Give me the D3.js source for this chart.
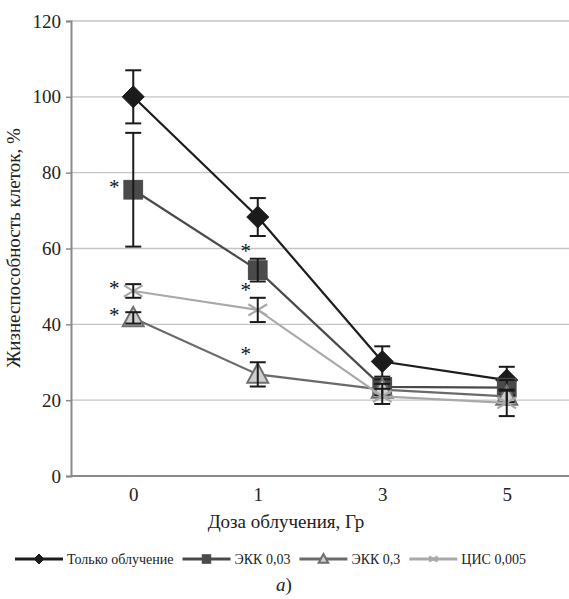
<!DOCTYPE html>
<html><head><meta charset="utf-8">
<script src="https://cdn.jsdelivr.net/npm/d3@7"></script>
<style>body{margin:0;background:#fff}svg{display:block}
svg text{font-family:"Liberation Serif",Tinos,"Times New Roman",Times,"DejaVu Serif","Noto Serif",serif}</style>
</head><body><svg id="c" width="569" height="599"></svg>
<script>
const doses = ["0", "1", "3", "5"];
const yTicks = [0, 20, 40, 60, 80, 100, 120];
const seriesNames = ["Только облучение", "ЭКК 0,03", "ЭКК 0,3", "ЦИС 0,005"];
const onlyIrr = [100, 68.3, 30.2, 25.3];
const onlyIrrErr = [7, 5, 4, 3.5];
const ekk003 = [75.5, 54.3, 23.5, 23.3];
const ekk003Err = [15, 3, 2, 2];
const ekk03 = [41.7, 26.8, 22.8, 21];
const ekk03Err = [1.5, 3.2, 1.5, 1.5];
const cis = [48.8, 43.8, 21, 19.3];
const cisErr = [1.8, 3.2, 2, 3.5];
const signif003 = [true, true, false, false];
const signif03 = [true, true, false, false];
const signifCis = [true, true, false, false];

const series = [
  {name: seriesNames[0], vals: onlyIrr, err: onlyIrrErr, sig: [false,false,false,false], line: "#1c1c1c", sym: "diamond", fill: "#1c1c1c", stroke: "#1c1c1c"},
  {name: seriesNames[1], vals: ekk003, err: ekk003Err, sig: signif003, line: "#4a4a4a", sym: "square", fill: "#4a4a4a", stroke: "#4a4a4a"},
  {name: seriesNames[2], vals: ekk03, err: ekk03Err, sig: signif03, line: "#6a6a6a", sym: "triangle", fill: "#cfcfcf", stroke: "#6e6e6e"},
  {name: seriesNames[3], vals: cis, err: cisErr, sig: signifCis, line: "#a9a9a9", sym: "x", fill: "none", stroke: "#a9a9a9"}
];

const svg = d3.select("#c");
const x = d3.scalePoint().domain(doses).range([71, 569]).padding(0.5);
const y = d3.scaleLinear().domain([0, 120]).range([476, 21]);

svg.append("g").selectAll("line").data(yTicks.filter(d => d > 0)).join("line")
  .attr("x1", 71).attr("x2", 569).attr("y1", d => y(d)).attr("y2", d => y(d))
  .attr("stroke", "#c4c4c4").attr("stroke-width", 1.3);

const ya = svg.append("g").attr("transform", "translate(71,0)")
  .call(d3.axisLeft(y).tickValues(yTicks).tickSize(5).tickPadding(5));
ya.attr("font-family", null);
ya.select(".domain").attr("stroke", "#8a8a8a").attr("stroke-width", 2);
ya.selectAll(".tick line").attr("stroke", "#8a8a8a").attr("stroke-width", 1.5);
ya.selectAll(".tick text").attr("font-size", 19).attr("fill", "#222");

const xa = svg.append("g").attr("transform", "translate(0,476)")
  .call(d3.axisBottom(x).tickSize(0).tickPadding(12));
xa.attr("font-family", null);
xa.select(".domain").attr("stroke", "#8a8a8a").attr("stroke-width", 2).attr("d", "M71,0H569");
xa.selectAll(".tick text").attr("font-size", 19).attr("fill", "#222");

svg.append("text").attr("transform", "translate(20,248) rotate(-90)").attr("text-anchor", "middle")
  .attr("font-size", 19).attr("fill", "#222").text("Жизнеспособность клеток, %");
svg.append("text").attr("x", 286).attr("y", 528).attr("text-anchor", "middle")
  .attr("font-size", 19).attr("fill", "#222").text("Доза облучения, Гр");
svg.append("text").attr("x", 284).attr("y", 591).attr("text-anchor", "middle")
  .attr("font-size", 19).attr("fill", "#222").html('<tspan font-style="italic">а</tspan>)');

function drawMarker(g, s, cx, cy, size) {
  if (s.sym === "diamond") {
    g.append("path").attr("d", `M${cx},${cy-size}L${cx+size},${cy}L${cx},${cy+size}L${cx-size},${cy}Z`)
      .attr("fill", s.fill).attr("stroke", s.stroke);
  } else if (s.sym === "square") {
    const h = size * 0.85;
    g.append("rect").attr("x", cx-h).attr("y", cy-h).attr("width", 2*h).attr("height", 2*h)
      .attr("fill", s.fill).attr("stroke", s.stroke);
  } else if (s.sym === "triangle") {
    const h = size;
    g.append("path").attr("d", `M${cx},${cy-h}L${cx+h*0.95},${cy+h*0.75}L${cx-h*0.95},${cy+h*0.75}Z`)
      .attr("fill", s.fill).attr("stroke", s.stroke).attr("stroke-width", 2);
  } else {
    const h = size * 0.85;
    g.append("path").attr("d", `M${cx-h},${cy-h*0.6}L${cx+h},${cy+h*0.6}M${cx-h},${cy+h*0.6}L${cx+h},${cy-h*0.6}`)
      .attr("stroke", s.stroke).attr("stroke-width", 2.2).attr("fill", "none");
  }
}

const line = d3.line().x((d, i) => x(doses[i])).y(d => y(d));
series.forEach(s => {
  const g = svg.append("g");
  g.append("path").attr("d", line(s.vals)).attr("fill", "none").attr("stroke", s.line).attr("stroke-width", 2.2);
  s.vals.forEach((v, i) => drawMarker(g, s, x(doses[i]), y(v), 11));
  s.vals.forEach((v, i) => {
    const cx = x(doses[i]), e = s.err[i];
    const eg = g.append("g").attr("stroke", "#1a1a1a").attr("stroke-width", 2);
    eg.append("line").attr("x1", cx).attr("x2", cx).attr("y1", y(v - e)).attr("y2", y(v + e));
    [v - e, v + e].forEach(t => eg.append("line").attr("x1", cx - 8).attr("x2", cx + 8).attr("y1", y(t)).attr("y2", y(t)));
  });
  s.vals.forEach((v, i) => {
    if (!s.sig[i]) return;
    const cx = x(doses[i]);
    const ty = i === 0 ? y(v) + 4 : y(v + s.err[i]) - 1;
    const tx = i === 0 ? cx - 19 : cx - 12;
    g.append("text").attr("x", tx).attr("y", ty).attr("text-anchor", "middle")
      .attr("font-size", 21).attr("fill", "#111").text("*");
  });
});

const legend = svg.append("g");
let lx = 15;
series.forEach((s, i) => {
  const ly = 559;
  legend.append("line").attr("x1", lx).attr("x2", lx + 48).attr("y1", ly).attr("y2", ly)
    .attr("stroke", s.line).attr("stroke-width", 3);
  drawMarker(legend, s, lx + 24, ly, 5);
  const t = legend.append("text").attr("x", lx + 52).attr("y", ly + 5).attr("font-size", 14).attr("fill", "#222").text(s.name);
  lx = lx + 52 + t.node().getComputedTextLength() + 9;
});
</script></body></html>
